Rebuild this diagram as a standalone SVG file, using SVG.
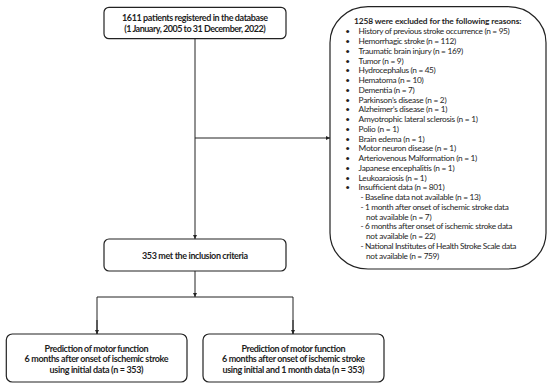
<svg xmlns="http://www.w3.org/2000/svg" width="550" height="388" viewBox="0 0 550 388">
<defs>
<style>
.box{fill:#fff;stroke:#222;stroke-width:1.2}
.ln{fill:none;stroke:#222;stroke-width:1}
text{font-family:Lato,"Open Sans","Liberation Sans",sans-serif;fill:#1e1e1e}
.b{font-weight:bold;font-size:9px;text-anchor:middle}
.r{font-size:8.3px}
.t{font-weight:bold;font-size:8.4px}
</style>
<marker id="ah" viewBox="0 0 6 6" refX="6" refY="3" markerWidth="4.5" markerHeight="4.5" orient="auto" markerUnits="userSpaceOnUse">
<path d="M0,0 L6,3 L0,6 z" fill="#222"/>
</marker>
</defs>
<rect width="550" height="388" fill="#fff"/>
<g id="connectors">
<line class="ln" x1="195" y1="38.7" x2="195" y2="239" marker-end="url(#ah)"/>
<line class="ln" x1="195" y1="138" x2="330" y2="138" marker-end="url(#ah)"/>
<line class="ln" x1="195" y1="271" x2="195" y2="297" marker-end="url(#ah)"/>
<polyline class="ln" points="97,334 97,297 293,297 293,334"/>
<line class="ln" x1="97" y1="320" x2="97" y2="334" marker-end="url(#ah)"/>
<line class="ln" x1="293" y1="320" x2="293" y2="334" marker-end="url(#ah)"/>
</g>
<g id="registered">
<rect class="box" x="104" y="7.3" width="182" height="31.4" rx="5"/>
<text class="b" x="195" y="21.3" textLength="146">1611 patients registered in the database</text>
<text class="b" x="195" y="32" textLength="141.5">(1 January, 2005 to 31 December, 2022)</text>
</g>
<g id="excluded">
<rect class="box" x="330" y="6.7" width="216" height="262.3" rx="38" ry="36"/>
<text class="t" x="354" y="24.3" textLength="167.4">1258 were excluded for the following reasons:</text>
<g class="r">
<text x="345.2" y="34.2">•</text><text x="358.6" y="34.2" textLength="151.2">History of previous stroke occurrence (n = 95)</text>
<text x="345.2" y="44">•</text><text x="358.6" y="44" textLength="97.5">Hemorrhagic stroke (n = 112)</text>
<text x="345.2" y="53.7">•</text><text x="358.6" y="53.7" textLength="104.6">Traumatic brain injury (n = 169)</text>
<text x="345.2" y="63.5">•</text><text x="358.6" y="63.5" textLength="45">Tumor (n = 9)</text>
<text x="345.2" y="73.2">•</text><text x="358.6" y="73.2" textLength="77.2">Hydrocephalus (n = 45)</text>
<text x="345.2" y="83">•</text><text x="358.6" y="83" textLength="65">Hematoma (n = 10)</text>
<text x="345.2" y="92.7">•</text><text x="358.6" y="92.7" textLength="56">Dementia (n = 7)</text>
<text x="345.2" y="102.5">•</text><text x="358.6" y="102.5" textLength="88">Parkinson’s disease (n = 2)</text>
<text x="345.2" y="112.2">•</text><text x="358.6" y="112.2" textLength="88.8">Alzheimer’s disease (n = 1)</text>
<text x="345.2" y="122">•</text><text x="358.6" y="122" textLength="119.3">Amyotrophic lateral sclerosis (n = 1)</text>
<text x="345.2" y="131.7">•</text><text x="358.6" y="131.7" textLength="40.4">Polio (n = 1)</text>
<text x="345.2" y="141.5">•</text><text x="358.6" y="141.5" textLength="66">Brain edema (n = 1)</text>
<text x="345.2" y="151.2">•</text><text x="358.6" y="151.2" textLength="97.5">Motor neuron disease (n = 1)</text>
<text x="345.2" y="161">•</text><text x="358.6" y="161" textLength="118.6">Arteriovenous Malformation (n = 1)</text>
<text x="345.2" y="170.7">•</text><text x="358.6" y="170.7" textLength="96">Japanese encephalitis (n = 1)</text>
<text x="345.2" y="180.5">•</text><text x="358.6" y="180.5" textLength="68">Leukoaraiosis (n = 1)</text>
<text x="345.2" y="190.2">•</text><text x="358.6" y="190.2" textLength="86">Insufficient data (n = 801)</text>
<text x="360.4" y="200" textLength="120.4">- Baseline data not available (n = 13)</text>
<text x="360.4" y="209.7" textLength="148.4">- 1 month after onset of ischemic stroke data</text>
<text x="366" y="219.5" textLength="65.6">not available (n = 7)</text>
<text x="360.4" y="229.2" textLength="152">- 6 months after onset of ischemic stroke data</text>
<text x="366" y="239" textLength="69.8">not available (n = 22)</text>
<text x="360.4" y="248.7" textLength="156">- National Institutes of Health Stroke Scale data</text>
<text x="366" y="258.5" textLength="73.3">not available (n = 759)</text>
</g>
</g>
<g id="included">
<rect class="box" x="104" y="239" width="182" height="32" rx="5"/>
<text class="b" x="195" y="258.5" textLength="106">353 met the inclusion criteria</text>
</g>
<g id="model-initial">
<rect class="box" x="6.3" y="334" width="180.7" height="48" rx="6"/>
<text class="b" x="96.6" y="351.5" textLength="104">Prediction of motor function</text>
<text class="b" x="96.6" y="362.2" textLength="144">6 months after onset of ischemic stroke</text>
<text class="b" x="96.6" y="372.5" textLength="94">using initial data (n = 353)</text>
</g>
<g id="model-initial-1month">
<rect class="box" x="203" y="334" width="181" height="48" rx="6"/>
<text class="b" x="293.5" y="351.5" textLength="104">Prediction of motor function</text>
<text class="b" x="293.5" y="362.2" textLength="143">6 months after onset of ischemic stroke</text>
<text class="b" x="293.5" y="372.5" textLength="142">using initial and 1 month data (n = 353)</text>
</g>
</svg>
